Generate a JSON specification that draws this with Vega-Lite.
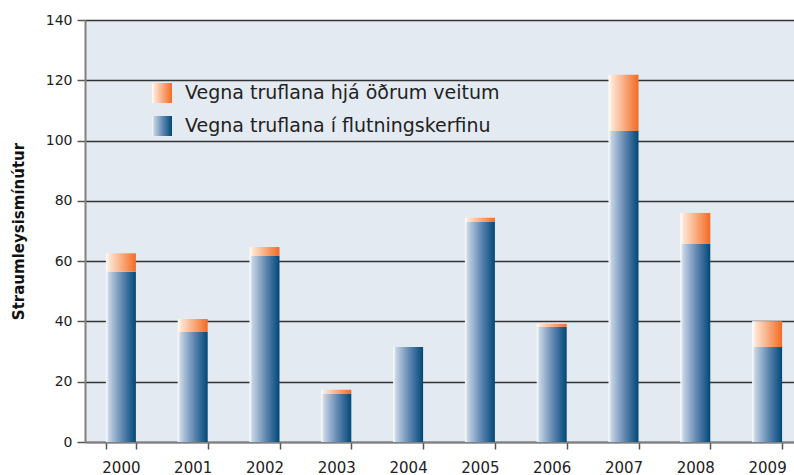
{
  "$schema": "https://vega.github.io/schema/vega-lite/v6.json",
  "autosize": "none",
  "width": 718,
  "height": 422,
  "padding": {"left": 85, "top": 20, "right": -9, "bottom": 33},
  "background": "white",
  "config": {
    "font": "DejaVu Sans",
    "view": {"fill": "#e4eaf2", "stroke": null},
    "legend": {
      "title": null,
      "orient": "none",
      "padding": 0,
      "symbolSize": 400,
      "symbolStrokeWidth": 0,
      "symbolOpacity": 1,
      "labelFontSize": 19,
      "labelColor": "#222222",
      "labelOffset": 13,
      "labelLimit": 0
    }
  },
  "datasets": {
    "bars": [
      {"year": "2000", "flutningskerfi": 56.5, "heild": 62.6},
      {"year": "2001", "flutningskerfi": 36.5, "heild": 40.8},
      {"year": "2002", "flutningskerfi": 61.7, "heild": 64.7},
      {"year": "2003", "flutningskerfi": 15.9, "heild": 17.3},
      {"year": "2004", "flutningskerfi": 31.5, "heild": 31.5},
      {"year": "2005", "flutningskerfi": 73.0, "heild": 74.4},
      {"year": "2006", "flutningskerfi": 38.2, "heild": 39.2},
      {"year": "2007", "flutningskerfi": 103.2, "heild": 121.8},
      {"year": "2008", "flutningskerfi": 65.7, "heild": 76.0},
      {"year": "2009", "flutningskerfi": 31.5, "heild": 40.1}
    ],
    "series": [
      {"series": "Vegna truflana hjá öðrum veitum"},
      {"series": "Vegna truflana í flutningskerfinu"}
    ]
  },
  "encoding": {
    "x": {
      "field": "year",
      "type": "ordinal",
      "title": null,
      "scale": {"paddingInner": 0.58, "paddingOuter": 0.29},
      "axis": {
        "labelAngle": 0,
        "labelFontSize": 15,
        "labelColor": "#222222",
        "labelPadding": 11,
        "tickBand": "extent",
        "tickSize": 7,
        "tickColor": "#555555",
        "tickWidth": 1.5,
        "domainColor": "#808080",
        "domainWidth": 2
      }
    }
  },
  "resolve": {"scale": {"shape": "independent"}, "legend": {"shape": "independent"}},
  "layer": [
    {
      "data": {"name": "bars"},
      "mark": {
        "type": "bar",
        "width": 30,
        "color": {"gradient": "linear", "x1": 0, "y1": 0, "x2": 1, "y2": 0, "stops": [{"offset": 0, "color": "#ffffff"}, {"offset": 0.1, "color": "#c3d2e3"}, {"offset": 0.55, "color": "#5f86b0"}, {"offset": 1, "color": "#004878"}]}
      },
      "encoding": {
        "y": {
          "field": "flutningskerfi",
          "type": "quantitative",
          "title": "Straumleysismínútur",
          "scale": {"domain": [0, 140], "nice": false},
          "axis": {
            "values": [0, 20, 40, 60, 80, 100, 120, 140],
            "labelFontSize": 14,
            "labelColor": "#222222",
            "labelPadding": 5,
            "tickSize": 8,
            "tickColor": "#555555",
            "tickWidth": 1.5,
            "domainColor": "#808080",
            "domainWidth": 2,
            "gridColor": "#333333",
            "gridWidth": 1.5,
            "titleFontSize": 15,
            "titleFontWeight": "bold",
            "titleColor": "#111111",
            "titleX": -67,
            "titleY": 211,
            "titleAngle": -90,
            "titleAlign": "center",
            "titleBaseline": "middle"
          }
        }
      }
    },
    {
      "data": {"name": "bars"},
      "mark": {
        "type": "bar",
        "width": 30,
        "color": {"gradient": "linear", "x1": 0, "y1": 0, "x2": 1, "y2": 0, "stops": [{"offset": 0, "color": "#ffffff"}, {"offset": 0.12, "color": "#fde3d0"}, {"offset": 1, "color": "#f36b22"}]}
      },
      "encoding": {
        "y": {"field": "flutningskerfi", "type": "quantitative"},
        "y2": {"field": "heild"}
      }
    },
    {
      "data": {"name": "series"},
      "transform": [{"filter": "false"}],
      "mark": {
        "type": "point",
        "filled": true,
        "color": {"gradient": "linear", "x1": 0, "y1": 0, "x2": 1, "y2": 0, "stops": [{"offset": 0, "color": "#ffffff"}, {"offset": 0.12, "color": "#fde3d0"}, {"offset": 1, "color": "#f36b22"}]}
      },
      "encoding": {
        "shape": {
          "field": "series",
          "type": "nominal",
          "scale": {"domain": ["Vegna truflana hjá öðrum veitum"], "range": ["square"]},
          "legend": {"legendX": 67, "legendY": 63}
        }
      }
    },
    {
      "data": {"name": "series"},
      "transform": [{"filter": "false"}],
      "mark": {
        "type": "point",
        "filled": true,
        "color": {"gradient": "linear", "x1": 0, "y1": 0, "x2": 1, "y2": 0, "stops": [{"offset": 0, "color": "#ffffff"}, {"offset": 0.1, "color": "#c3d2e3"}, {"offset": 0.55, "color": "#5f86b0"}, {"offset": 1, "color": "#004878"}]}
      },
      "encoding": {
        "shape": {
          "field": "series",
          "type": "nominal",
          "scale": {"domain": ["Vegna truflana í flutningskerfinu"], "range": ["square"]},
          "legend": {"legendX": 67, "legendY": 96}
        }
      }
    }
  ]
}
